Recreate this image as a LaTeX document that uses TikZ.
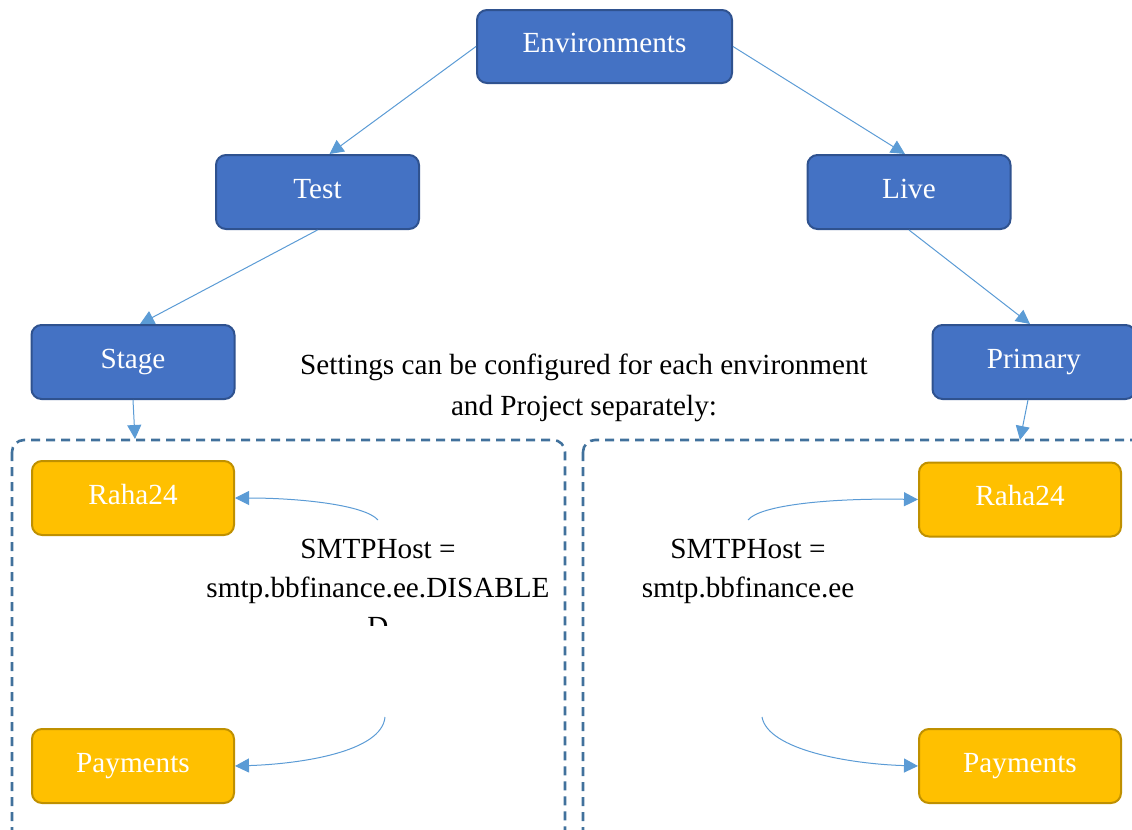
\documentclass[tikz,border=0pt]{standalone}
\usepackage{fontspec}
\setmainfont{Liberation Serif}
\newfontfamily\diagfont{Liberation Serif}
\usetikzlibrary{arrows.meta}
\definecolor{envblue}{HTML}{4472C4}
\definecolor{envline}{HTML}{2F528F}
\definecolor{projfill}{HTML}{FFC000}
\definecolor{projline}{HTML}{BF9000}
\definecolor{arrowblue}{HTML}{5B9BD5}
\definecolor{groupline}{HTML}{41719C}
\tikzset{
  px/.style={x=0.5pt,y=-0.5pt},
  envbox/.style={draw=envline, line width=1pt, fill=envblue, rounded corners=5pt,
    text=white, minimum width=101.5pt, minimum height=37pt, inner sep=0pt,
    text height=10pt, text depth=4pt},
  projbox/.style={draw=projline, line width=1pt, fill=projfill, rounded corners=5pt,
    text=white, minimum width=101pt, minimum height=37pt, inner sep=0pt,
    text height=10pt, text depth=4pt},
  group/.style={draw=groupline, line width=1.3pt, dash pattern=on 4.5pt off 3pt, rounded corners=6pt},
  link/.style={draw=arrowblue, line width=0.5pt, -{Triangle[length=7pt,width=7pt]}},
  note/.style={align=center, inner sep=0pt}
}

\begin{document}
\begin{tikzpicture}[px, font=\diagfont\fontsize{14.6}{19.5}\selectfont]
	\clip (0,0) rectangle (1132,830);
	% les deux cadres pointilles
	\draw[group] (12,440) rectangle (565,860);
	\draw[group] (583,440) rectangle (1160,860);
	% arbre des environnements
	\node[envbox, minimum width=127.5pt, minimum height=36.5pt] (env) at (604.5,46.5) {Environments};
	\node[envbox] (test) at (317.5,192) {Test};
	\node[envbox] (live) at (909,192) {Live};
	\node[envbox] (stage) at (133,362) {Stage};
	\node[envbox] (primary) at (1034,362) {Primary};
	% projets
	\node[projbox] (raha-t) at (133,498) {Raha24};
	\node[projbox] (pay-t) at (133,766) {Payments};
	\node[projbox] (raha-l) at (1020,499.5) {Raha24};
	\node[projbox] (pay-l) at (1020,766) {Payments};
	% textes
	\node[note] (settings) at (584,388) {Settings can be configured for each environment\\[1pt] and Project separately:};
	\begin{scope}
		\clip (190,525) rectangle (570,625);
		\node[note, anchor=north] (host-t) at (378,539) {SMTPHost =\\ smtp.bbfinance.ee.DISABLE\\ D};
	\end{scope}
	\node[note, anchor=north] (host-l) at (748,539) {SMTPHost =\\ smtp.bbfinance.ee};
	% points d'attache
	\coordinate (in-t) at (135,439);
	\coordinate (in-l) at (1020,440);
	\coordinate (from-t1) at (378,520);
	\coordinate (from-t2) at (385,717);
	\coordinate (from-l1) at (748,520);
	\coordinate (from-l2) at (762,717);
	% fleches
	\draw[link] (env.west) -- ([xshift=6pt]test.north);
	\draw[link] (env.east) -- ([xshift=-2pt]live.north);
	\draw[link] (test.south) -- ([xshift=3.5pt]stage.north);
	\draw[link] (live.south) -- ([xshift=-2pt]primary.north);
	\draw[link] (stage.south) -- (in-t);
	\draw[link] ([xshift=-3pt]primary.south) -- (in-l);
	\draw[link] (from-t1) .. controls (365,505) and (300,498) .. (raha-t.east);
	\draw[link] (from-t2) .. controls (382,752) and (300,764) .. (pay-t.east);
	\draw[link] (from-l1) .. controls (760,505) and (830,498) .. (raha-l.west);
	\draw[link] (from-l2) .. controls (768,750) and (850,764) .. (pay-l.west);
\end{tikzpicture}
\end{document}
